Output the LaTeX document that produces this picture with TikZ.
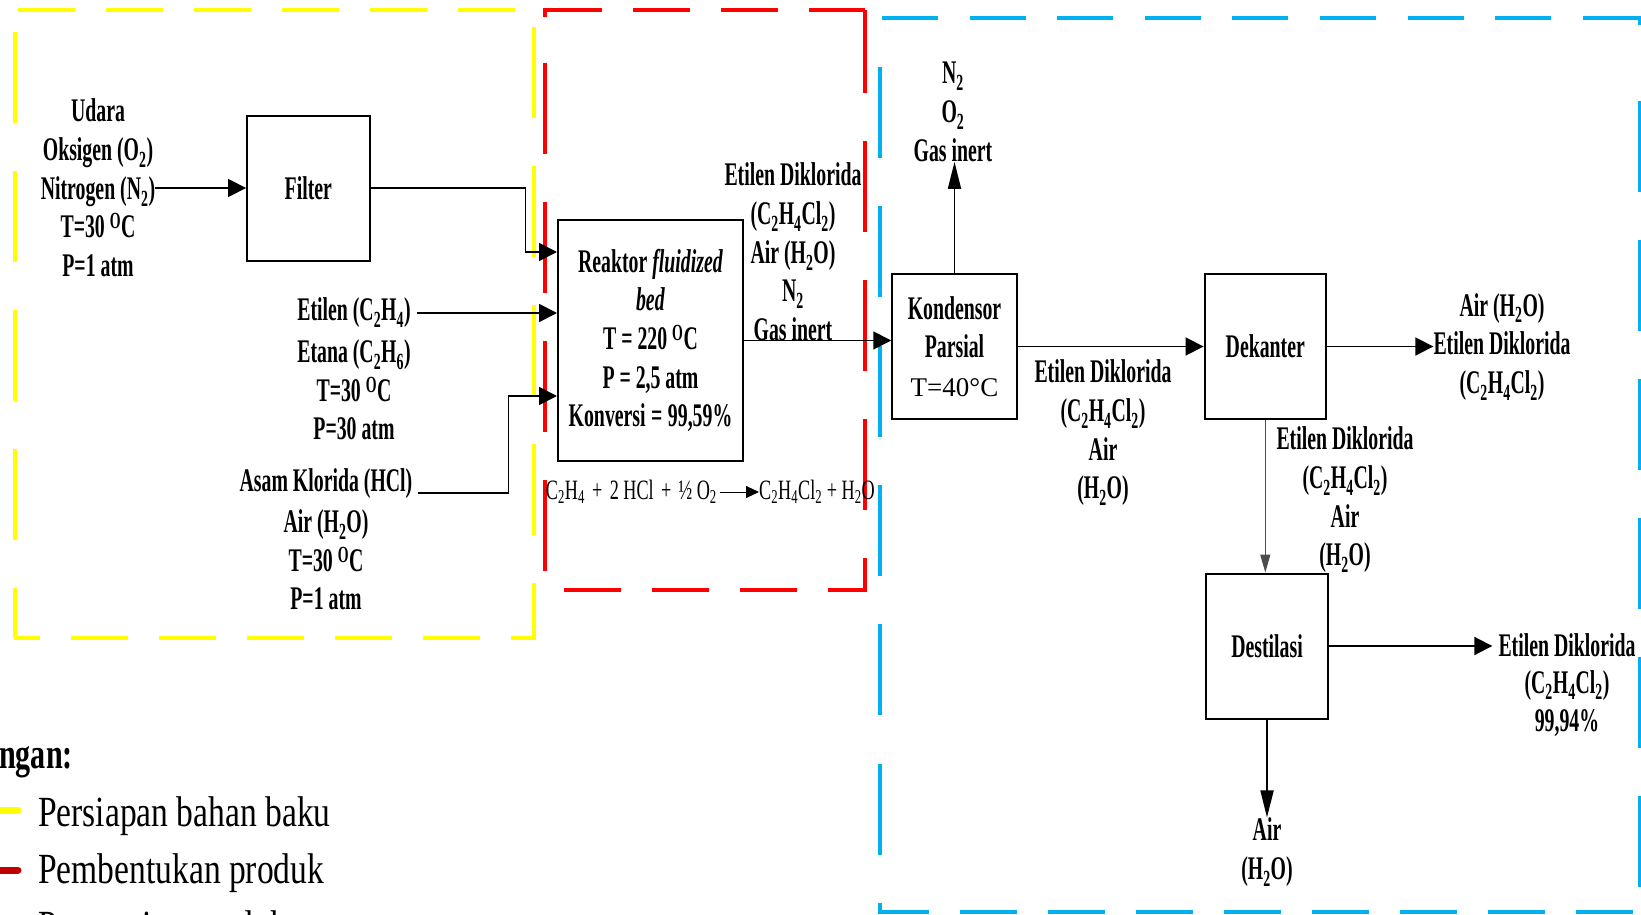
\documentclass[tikz,border=0pt]{standalone}
\usepackage{fontspec}
\setmainfont{Liberation Serif}
\newfontfamily\cnd{Liberation Serif}[FakeStretch=0.6]
\newfontfamily\eqf{Liberation Serif}[FakeStretch=0.65]
\newfontfamily\lgf{Liberation Serif}[FakeStretch=0.78]
\newfontfamily\lgb{Liberation Serif}[FakeStretch=0.7]
\newfontfamily\plainf{Liberation Serif}
\usetikzlibrary{arrows.meta}
\definecolor{yel}{HTML}{FFFF00}
\definecolor{rd}{HTML}{FF0000}
\definecolor{blu}{HTML}{00B0F0}
\definecolor{dkred}{HTML}{C00000}
\tikzset{
  lbl/.style={font=\cnd\bfseries\fontsize{33}{38.7}\selectfont, align=center, inner sep=0pt},
  unitbox/.style={draw, line width=2pt, inner sep=0pt, align=center,
    font=\cnd\bfseries\fontsize{33}{38.7}\selectfont},
  arr/.style={line width=1.8pt, -{Triangle[length=18pt,width=18pt]}},
  arrtall/.style={line width=1.8pt, -{Triangle[length=27pt,width=13pt]}},
  arrthin/.style={line width=1.1pt, draw=black!70, -{Triangle[length=18pt,width=10pt]}},
  arreq/.style={line width=0.9pt, -{Triangle[length=13pt,width=12pt]}},
  zone/.style={line width=4pt},
  hdash/.style={dash pattern=on 57pt off 31pt},
  vdash/.style={dash pattern=on 91pt off 48pt},
}
\newcommand\eqplus{\hspace{0.26em}+\hspace{0.26em}}
\begin{document}
\begin{tikzpicture}[x=1pt,y=-1pt]
\useasboundingbox (0,0) rectangle (1641,915);
\clip (0,0) rectangle (1641,915);

% ---------- zones ----------
% yellow
\draw[zone, yel, hdash] (18,10.5) -- (534,10.5);
\draw[zone, yel, vdash] (15,32) -- (15,638);
\draw[zone, yel, vdash] (534,27) -- (534,640);
\draw[zone, yel, hdash, dash phase=31pt] (14,638) -- (536,638);
% red
\draw[zone, rd, hdash] (545,10.5) -- (864.5,10.5);
\draw[zone, rd] (545,8.5) -- (545,17);
\draw[zone, rd, vdash] (545,63) -- (545,590);
\draw[zone, rd, vdash, dash phase=8.5pt] (864.5,10.5) -- (864.5,592);
\draw[zone, rd, hdash] (564,590) -- (866.5,590);
% blue
\draw[zone, blu, dash pattern=on 56pt off 31.6pt] (882,18) -- (1641,18);
\draw[zone, blu, dash pattern=on 91pt off 48.3pt] (880,67) -- (880,914);
\draw[zone, blu, hdash, dash phase=8pt] (880,912) -- (1641,912);
\draw[zone, blu] (1640,16) -- (1640,25);
\draw[zone, blu, vdash] (1640,101) -- (1640,912);

% ---------- unit boxes ----------
\node[unitbox, minimum width=122.5pt, minimum height=144.5pt] (filter) at (308.3,188.3) {Filter};
\node[unitbox, minimum width=185pt, minimum height=241pt] (reaktor) at (650.5,340.5)
  {Reaktor \textit{fluidized}\\\textit{bed}\\T = 220 \textsuperscript{O}C\\P = 2,5 atm\\Konversi\,=\,99,59\%};
\node[unitbox, minimum width=124.5pt, minimum height=145pt] (kondensor) at (954.5,346.5)
  {Kondensor\\Parsial\\{\plainf\mdseries\fontsize{27}{30}\selectfont T=40°C}};
\node[unitbox, minimum width=121.5pt, minimum height=145pt] (dekanter) at (1265.3,346.5) {Dekanter};
\node[unitbox, minimum width=122pt, minimum height=145pt] (destilasi) at (1267,646) {Destilasi};

% ---------- stream labels ----------
\node[lbl] (udara) at (98,188) {Udara\\Oksigen (O\textsubscript{2})\\Nitrogen (N\textsubscript{2})\\T=30 \textsuperscript{O}C\\P=1 atm};
\node[lbl] (etilen) at (354,313) {Etilen (C\textsubscript{2}H\textsubscript{4})};
\node[lbl] (etana) at (354,390) {Etana (C\textsubscript{2}H\textsubscript{6})\\T=30 \textsuperscript{O}C\\P=30 atm};
\node[lbl] (hcl) at (326,483.5) {Asam Klorida (HCl)};
\node[lbl] (hclrest) at (326,560) {Air (H\textsubscript{2}O)\\T=30 \textsuperscript{O}C\\P=1 atm};
\node[lbl] (reakout) at (793,252) {Etilen Diklorida\\(C\textsubscript{2}H\textsubscript{4}Cl\textsubscript{2})\\Air (H\textsubscript{2}O)\\N\textsubscript{2}\\Gas inert};
\node[lbl] (gasout) at (953,112) {N\textsubscript{2}\\O\textsubscript{2}\\Gas inert};
\node[lbl] (kondout) at (1103,433) {Etilen Diklorida\\(C\textsubscript{2}H\textsubscript{4}Cl\textsubscript{2})\\Air\\(H\textsubscript{2}O)};
\node[lbl] (dekout) at (1502,347) {Air (H\textsubscript{2}O)\\Etilen Diklorida\\(C\textsubscript{2}H\textsubscript{4}Cl\textsubscript{2})};
\node[lbl] (dekdown) at (1345,500) {Etilen Diklorida\\(C\textsubscript{2}H\textsubscript{4}Cl\textsubscript{2})\\Air\\(H\textsubscript{2}O)};
\node[lbl] (desout) at (1567,645) {Etilen Diklorida};
\node[lbl] (desout2) at (1567,703.5) {(C\textsubscript{2}H\textsubscript{4}Cl\textsubscript{2})\\99,94\%};
\node[lbl] (airout) at (1267,852) {Air\\(H\textsubscript{2}O)};

% reaction equation
\node[inner sep=0pt, anchor=east, font=\eqf\fontsize{28}{30}\selectfont] (eql) at (717,492)
  {C\textsubscript{2}H\textsubscript{4}\eqplus 2 HCl\eqplus ½ O\textsubscript{2}};
\node[inner sep=0pt, anchor=west, font=\eqf\fontsize{28}{30}\selectfont] (eqr) at (759,492)
  {C\textsubscript{2}H\textsubscript{4}Cl\textsubscript{2} + H\textsubscript{2}O};

% ---------- connectors ----------
\draw[arr] (udara.east) -- (udara.east -| filter.west);
\draw[arr] (filter.east) -- ++(155,0) |- ([yshift=-33pt]reaktor.north west);
\draw[arr] ([xshift=6pt]etilen.east) -- (etilen.east -| reaktor.west);
\draw[arr] ([xshift=5pt,yshift=-9.5pt]hcl.east) -- ++(91,0) |- ([yshift=-177pt]reaktor.north west);
\draw[arr] (reaktor.east) -- (reaktor.east -| kondensor.west);
\draw[arrtall] (kondensor.north) -- (kondensor.north |- gasout.south);
\draw[arr] (kondensor.east) -- (dekanter.west);
\draw[arr] (dekanter.east) -- (dekanter.east -| dekout.west);
\draw[arrthin] (dekanter.south) -- (dekanter.south |- destilasi.north);
\draw[arr] (destilasi.east) -- ([xshift=-6pt]destilasi.east -| desout.west);
\draw[arrtall] (destilasi.south) -- (destilasi.south |- airout.north);
\draw[arreq] ([xshift=3pt]eql.east) -- (eqr.west);

% ---------- legend ----------
\node[inner sep=0pt, anchor=base east, font=\lgb\bfseries\fontsize{43}{50}\selectfont] (legtitle) at (73,768) {Keterangan:};
\draw[line width=7pt, yel, line cap=round] (-5,810) -- (18,810);
\node[inner sep=0pt, anchor=base west, font=\lgf\fontsize{43}{50}\selectfont] (leg1) at (38,826) {Persiapan bahan baku};
\draw[line width=7pt, dkred, line cap=round] (-5,870) -- (18,870);
\node[inner sep=0pt, anchor=base west, font=\lgf\fontsize{43}{50}\selectfont] (leg2) at (38,883) {Pembentukan produk};
\node[inner sep=0pt, anchor=base west, font=\lgf\fontsize{43}{50}\selectfont] (leg3) at (38,940) {Pemurnian produk};
\end{tikzpicture}
\end{document}
